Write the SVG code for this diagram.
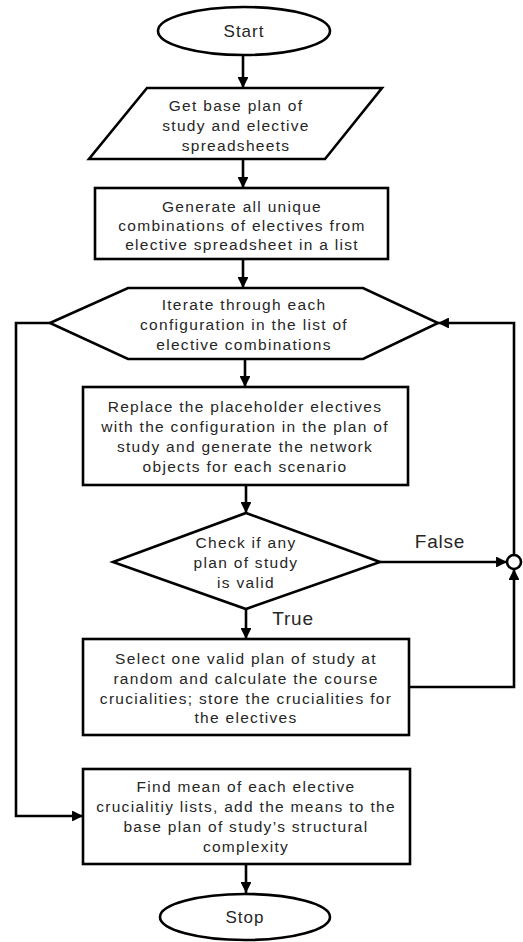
<svg xmlns="http://www.w3.org/2000/svg" width="523" height="942" viewBox="0 0 523 942">
<defs>
<style>
.s{fill:#fff;stroke:#000;stroke-width:2.6}
.t{font-family:"Liberation Sans",Arial,sans-serif;font-size:15.5px;letter-spacing:1.3px;fill:#262626;text-anchor:middle}
.te{font-family:"Liberation Sans",Arial,sans-serif;font-size:17px;letter-spacing:1px;fill:#262626;text-anchor:middle}
.lb{font-family:"Liberation Sans",Arial,sans-serif;font-size:19px;letter-spacing:0.8px;fill:#262626;text-anchor:middle}
.c{fill:none;stroke:#000;stroke-width:2.6}
</style>
<marker id="ah" viewBox="0 0 10 10" refX="10" refY="5" markerWidth="4.2" markerHeight="4.2" markerUnits="strokeWidth" orient="auto">
<path d="M0,0 L10,5 L0,10 z" fill="#000"/>
</marker>
</defs>
<rect width="523" height="942" fill="#fff"/>
<g id="connectors">
<path class="c" d="M243,56 V88" marker-end="url(#ah)"/>
<path class="c" d="M243,159 V188" marker-end="url(#ah)"/>
<path class="c" d="M243,259 V288" marker-end="url(#ah)"/>
<path class="c" d="M245,359 V387" marker-end="url(#ah)"/>
<path class="c" d="M246,485 V513" marker-end="url(#ah)"/>
<path class="c" d="M246,609 V639" marker-end="url(#ah)"/>
<path class="c" d="M380,562 H507" marker-end="url(#ah)"/>
<path class="c" d="M409,687 H514 V569" marker-end="url(#ah)"/>
<path class="c" d="M514,555 V323 H438" marker-end="url(#ah)"/>
<path class="c" d="M50,323 H16 V816 H83" marker-end="url(#ah)"/>
<path class="c" d="M246,864 V893" marker-end="url(#ah)"/>
<circle class="s" cx="514" cy="562" r="7"/>
<text class="lb" x="440" y="548">False</text>
<text class="lb" x="293" y="625">True</text>
</g>
<g id="start">
<ellipse class="s" cx="244" cy="31" rx="86" ry="24"/>
<text class="te" x="244" y="37">Start</text>
</g>
<g id="input">
<polygon class="s" points="147,88 382,88 325,159 89,159"/>
<text class="t" x="236" y="111">Get base plan of</text>
<text class="t" x="236" y="131">study and elective</text>
<text class="t" x="236" y="151">spreadsheets</text>
</g>
<g id="generate">
<rect class="s" x="95" y="188" width="293" height="71"/>
<text class="t" x="242" y="212">Generate all unique</text>
<text class="t" x="242" y="231">combinations of electives from</text>
<text class="t" x="242" y="250">elective spreadsheet in a list</text>
</g>
<g id="iterate">
<polygon class="s" points="50,323 128,288 363,288 438,323 363,359 128,359"/>
<text class="t" x="244" y="310">Iterate through each</text>
<text class="t" x="244" y="330">configuration in the list of</text>
<text class="t" x="244" y="350">elective combinations</text>
</g>
<g id="replace">
<rect class="s" x="83" y="387" width="325" height="98"/>
<text class="t" x="245" y="412">Replace the placeholder electives</text>
<text class="t" x="245" y="432">with the configuration in the plan of</text>
<text class="t" x="245" y="452">study and generate the network</text>
<text class="t" x="245" y="472">objects for each scenario</text>
</g>
<g id="check">
<polygon class="s" points="246,513 380,562 246,609 113,562"/>
<text class="t" x="246" y="548">Check if any</text>
<text class="t" x="246" y="568">plan of study</text>
<text class="t" x="246" y="588">is valid</text>
</g>
<g id="select">
<rect class="s" x="83" y="639" width="326" height="96"/>
<text class="t" x="246" y="664">Select one valid plan of study at</text>
<text class="t" x="246" y="684">random and calculate the course</text>
<text class="t" x="246" y="704">crucialities; store the crucialities for</text>
<text class="t" x="246" y="723">the electives</text>
</g>
<g id="mean">
<rect class="s" x="83" y="769" width="327" height="95"/>
<text class="t" x="246" y="792">Find mean of each elective</text>
<text class="t" x="246" y="812">crucialitiy lists, add the means to the</text>
<text class="t" x="246" y="832">base plan of study’s structural</text>
<text class="t" x="246" y="852">complexity</text>
</g>
<g id="stop">
<ellipse class="s" cx="245" cy="917" rx="85" ry="23"/>
<text class="te" x="245" y="923">Stop</text>
</g>
</svg>
